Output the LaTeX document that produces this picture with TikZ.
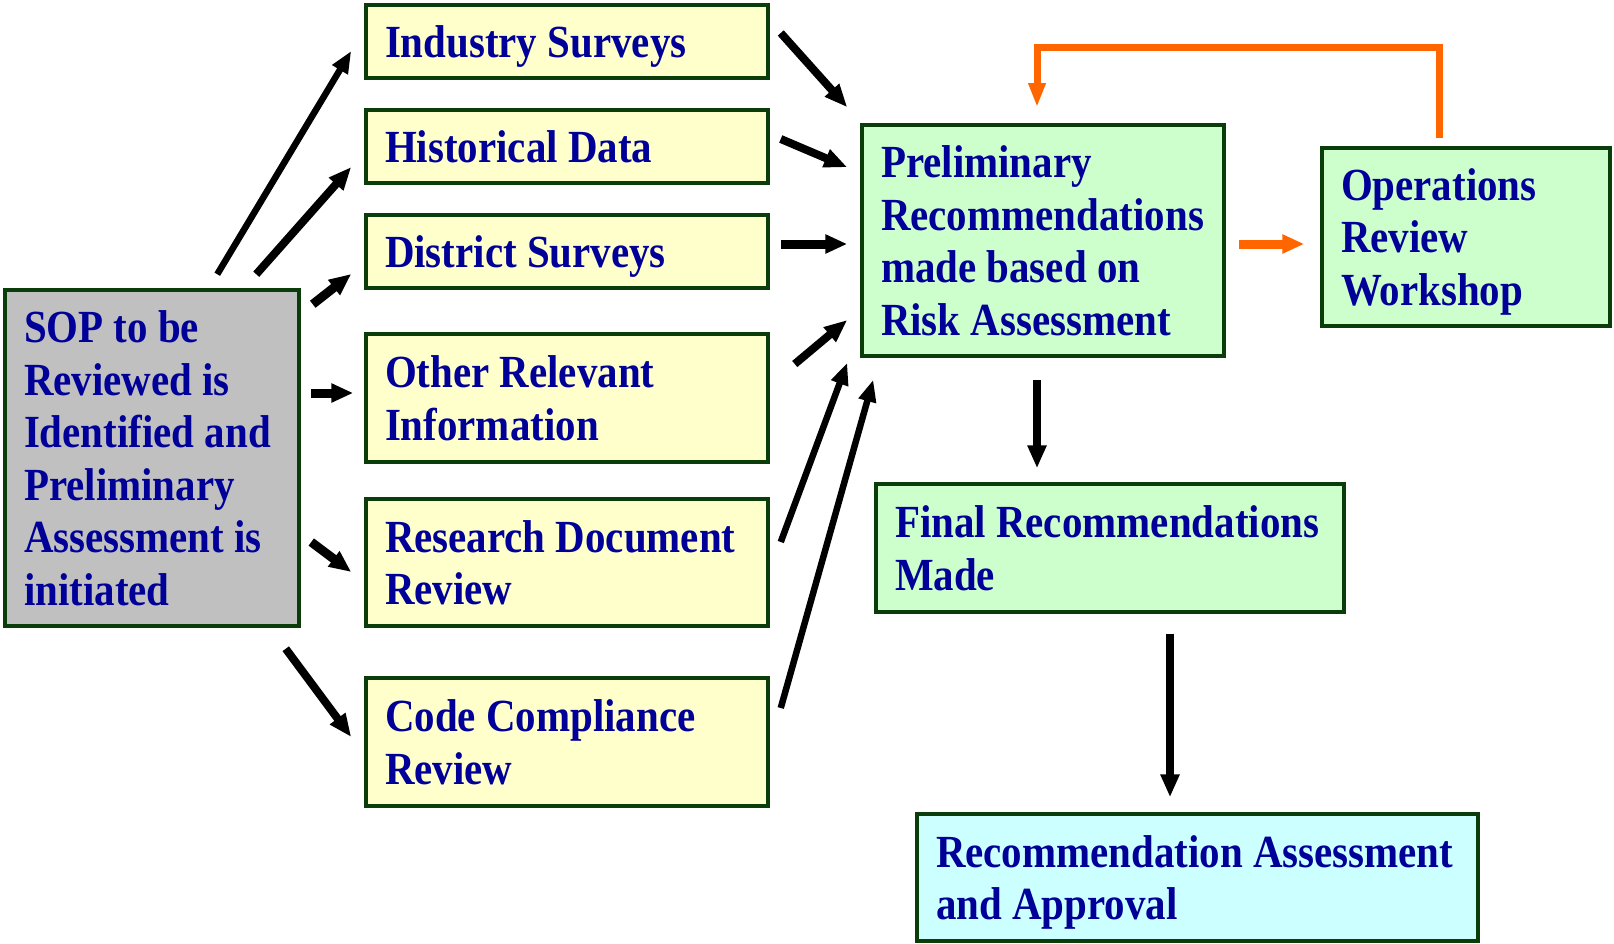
\documentclass[tikz,border=0pt]{standalone}
\usepackage{fontspec}
\setmainfont{Liberation Serif}[FakeStretch=0.89]
\usetikzlibrary{arrows.meta,calc}
\definecolor{txt}{HTML}{000099}
\definecolor{bord}{HTML}{0B3D0B}
\definecolor{yel}{HTML}{FFFFCC}
\definecolor{grn}{HTML}{CCFFCC}
\definecolor{cyn}{HTML}{CCFFFF}
\definecolor{gry}{HTML}{C0C0C0}
\definecolor{org}{HTML}{FF6600}
\newcommand\nodepth[1]{\raisebox{0pt}[\height][0pt]{#1}}
\newcommand\myboxfont{\fontsize{46}{52.5}\selectfont\bfseries}
\begin{document}
\begin{tikzpicture}[x=1pt,y=-1pt,
  box/.style={draw=bord, line width=3.5pt, text=txt,
    font=\myboxfont,
    inner xsep=19pt, inner ysep=0pt, align=flush left},
  thinarr/.style={line width=6.5pt, -{Triangle[length=22pt,width=17pt]}},
  medarr/.style={line width=8pt, -{Triangle[length=23pt,width=18pt]}},
  thickarr/.style={line width=9pt, -{Triangle[length=22pt,width=18pt]}},
  orarr/.style={draw=org, line width=7pt, line join=miter, -{Triangle[length=24pt,width=16pt]}},
  orarrb/.style={draw=org, line width=9pt, -{Triangle[length=22pt,width=18pt]}}]
\useasboundingbox (0,0) rectangle (1614,944);

\node[box, fill=gry, minimum width=294pt, minimum height=336pt, text width=256pt] (sop) at (152,458)
  {SOP to be\\Reviewed is\\Identified and\\Preliminary\\Assessment is\\\nodepth{initiated}};

\node[box, fill=yel, minimum width=402pt, minimum height=73pt, text width=364pt] (is) at (567,41.5) {\nodepth{Industry Surveys}};
\node[box, fill=yel, minimum width=402pt, minimum height=73pt, text width=364pt] (hd) at (567,146.5) {\nodepth{Historical Data}};
\node[box, fill=yel, minimum width=402pt, minimum height=73pt, text width=364pt] (ds) at (567,251.5) {\nodepth{District Surveys}};
\node[box, fill=yel, minimum width=402pt, minimum height=128pt, text width=364pt] (or) at (567,398) {Other Relevant\\\nodepth{Information}};
\node[box, fill=yel, minimum width=402pt, minimum height=127pt, text width=364pt] (rd) at (567,562.5) {Research Document\\\nodepth{Review}};
\node[box, fill=yel, minimum width=402pt, minimum height=128pt, text width=364pt] (cc) at (567,742) {Code Compliance\\\nodepth{Review}};

\node[box, fill=grn, minimum width=362pt, minimum height=231pt, text width=324pt] (pr) at (1043,240.5)
  {Preliminary\\Recommendations\\made based on\\\nodepth{Risk Assessment}};
\node[box, fill=grn, minimum width=288pt, minimum height=178pt, text width=250pt] (ow) at (1466,237)
  {Operations\\Review\\\nodepth{Workshop}};
\node[box, fill=grn, minimum width=468pt, minimum height=128pt, text width=430pt] (fr) at (1110,548)
  {Final Recommendations\\\nodepth{Made}};
\node[box, fill=cyn, minimum width=561pt, minimum height=127pt, text width=523pt] (ra) at (1197.5,877.5)
  {Recommendation Assessment\\\nodepth{and Approval}};

% SOP to sources
\draw[thinarr] ([shift={(214,-14)}]sop.north west) -- ([shift={(-13,9.5)}]is.west);
\draw[medarr] ([shift={(253,-14)}]sop.north west) -- ([shift={(-13,20.5)}]hd.west);
\draw[thickarr] ([shift={(12,16)}]sop.north east) -- ([shift={(-13,22.5)}]ds.west);
\draw[thickarr] ([shift={(-53,-5)}]or.west) -- ([shift={(-11,-5)}]or.west);
\draw[thickarr] ([shift={(-53,-20.5)}]rd.west) -- ([shift={(-13,9.5)}]rd.west);
\draw[medarr] ([shift={(-15,21)}]sop.south east) -- ([shift={(-13,-5)}]cc.west);

% sources to preliminary
\draw[medarr] ([shift={(11,-8.5)}]is.east) -- ([shift={(-13,-16)}]pr.north west);
\draw[medarr] ([shift={(11,-7.5)}]hd.east) -- ([shift={(-13,44)}]pr.north west);
\draw[thickarr] ([shift={(11,-7.5)}]ds.east) -- ([shift={(-13,3.5)}]pr.west);
\draw[medarr] ([shift={(25,-34)}]or.east) -- ([shift={(-13,79.5)}]pr.west);
\draw[thinarr] ([shift={(11,-20.5)}]rd.east) -- ([shift={(-13,5)}]pr.south west);
\draw[thinarr] ([shift={(11,-34)}]cc.east) -- ([shift={(13,22)}]pr.south west);

% downward
\draw[medarr] ([shift={(-6,22)}]pr.south) -- ([shift={(-73,-14)}]fr.north);
\draw[medarr] ([shift={(60,20)}]fr.south) -- ([shift={(-27.5,-15)}]ra.north);

% orange
\draw[orarrb] ([shift={(13,3.5)}]pr.east) -- ([shift={(-16,7)}]ow.west);
\draw[orarr] ([shift={(-27,-8)}]ow.north) -- ++(0,-91) -| ([shift={(-6,-16)}]pr.north);
\end{tikzpicture}
\end{document}
